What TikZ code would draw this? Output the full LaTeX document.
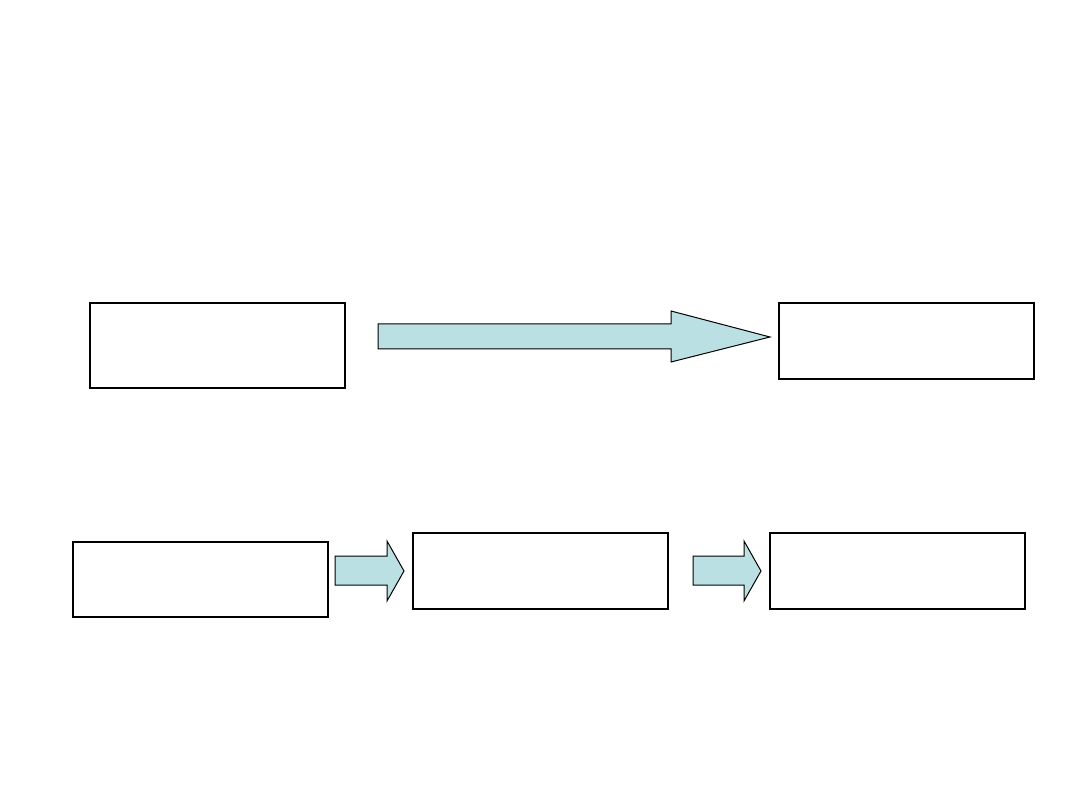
\documentclass[tikz,border=0pt]{standalone}
\usepackage{tikz}
\usetikzlibrary{positioning, calc}

\definecolor{arrowfill}{RGB}{187,224,227}

\begin{document}
\begin{tikzpicture}[
    x=1pt, y=-1pt,
    box/.style={draw, line width=2pt, rectangle, minimum width=255pt, inner sep=0pt, anchor=north west},
    blockarrow/.style={draw, line width=1pt, fill=arrowfill, line join=miter}
]
\useasboundingbox (0,0) rectangle (1080,810);

% upper row
\node (start) [box, minimum height=85pt] at (89,302) {};
\node (goal) [box, minimum height=76pt] at (778,302) {};

% lower row
\node (first) [box, minimum height=75pt] at (72,541) {};
\node (second) [box, minimum height=76pt] at (412,532) {};
\node (third) [box, minimum height=76pt] at (769,532) {};

% block arrows
\draw [blockarrow] (378,324) -- (671,324) -- (671,311) -- (770,337) -- (671,362) -- (671,349) -- (378,349) -- cycle;
\draw [blockarrow] (335,556) -- (387,556) -- (387,541) -- (404,571) -- (387,601) -- (387,585) -- (335,585) -- cycle;
\draw [blockarrow] (693,556) -- (744,556) -- (744,541) -- (761,571) -- (744,601) -- (744,585) -- (693,585) -- cycle;
\end{tikzpicture}
\end{document}
